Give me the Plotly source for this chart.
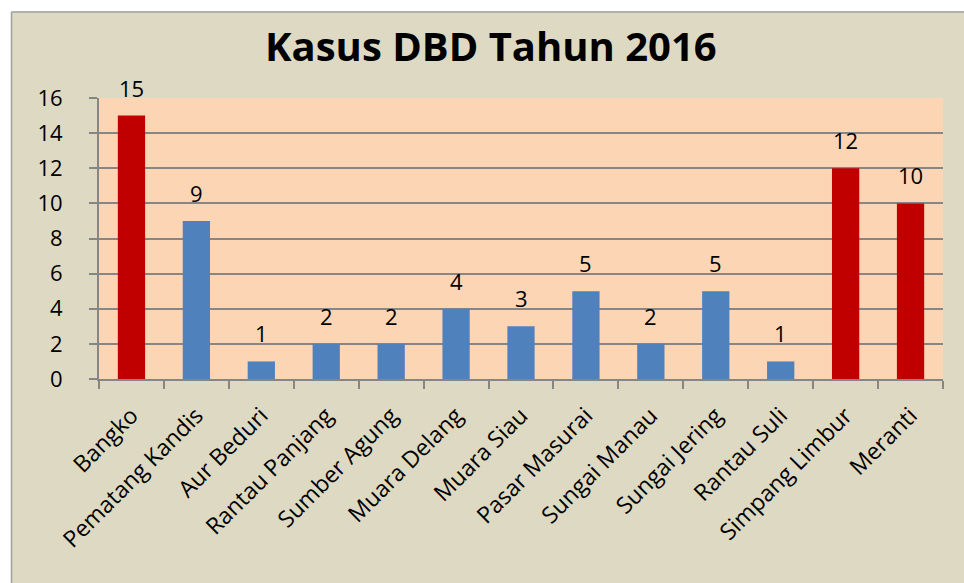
import plotly.graph_objects as go

categories = ["Bangko", "Pematang Kandis", "Aur Beduri", "Rantau Panjang", "Sumber Agung",
              "Muara Delang", "Muara Siau", "Pasar Masurai", "Sungai Manau", "Sungai Jering",
              "Rantau Suli", "Simpang Limbur", "Meranti"]
cases = [15, 9, 1, 2, 2, 4, 3, 5, 2, 5, 1, 12, 10]
y_ticks = [0, 2, 4, 6, 8, 10, 12, 14, 16]

RED = "#C00000"
BLUE = "#4F81BD"
colors = [RED if v >= 10 else BLUE for v in cases]

FONT = "Open Sans"
W, H = 964, 583
L, R, T, B = 99, 964 - 943, 98, 583 - 379
pw, ph = W - L - R, H - T - B

def px2x(px):
    return (px - L) / pw

def py2y(py):
    return (H - B - py) / ph

fig = go.Figure()
fig.add_trace(go.Bar(
    x=categories, y=cases, marker=dict(color=colors, line=dict(width=0)),
    width=0.42, hoverinfo="x+y",
))

annotations = []
for c, v in zip(categories, cases):
    annotations.append(dict(x=c, y=v, text=str(v), showarrow=False, xref="x", yref="y",
                            yanchor="bottom", yshift=11,
                            font=dict(family=FONT, size=22, color="black")))

annotations.append(dict(x=px2x(491), y=py2y(46), xref="paper", yref="paper", text="<b>Kasus DBD Tahun 2016</b>",
                        showarrow=False, xanchor="center", yanchor="middle",
                        font=dict(family=FONT, size=40, color="black")))

shapes = [
    dict(type="rect", xref="paper", yref="paper", x0=px2x(-5), x1=px2x(975), y0=py2y(11.5), y1=py2y(-5),
         fillcolor="white", line=dict(width=0), layer="above"),
    dict(type="rect", xref="paper", yref="paper", x0=px2x(-5), x1=px2x(11), y0=py2y(600), y1=py2y(-5),
         fillcolor="white", line=dict(width=0), layer="above"),
    dict(type="line", xref="paper", yref="paper", x0=px2x(11.5), x1=px2x(975), y0=py2y(12), y1=py2y(12),
         line=dict(color="#A0A0A0", width=1.5), layer="above"),
    dict(type="line", xref="paper", yref="paper", x0=px2x(11.5), x1=px2x(11.5), y0=py2y(12), y1=py2y(600),
         line=dict(color="#A0A0A0", width=1.5), layer="above"),
]

fig.update_layout(
    width=W, height=H,
    margin=dict(l=L, r=R, t=T, b=B, pad=0),
    paper_bgcolor="#DDD9C3",
    plot_bgcolor="#FCD5B5",
    showlegend=False,
    annotations=annotations,
    shapes=shapes,
    font=dict(family=FONT, size=23, color="black"),
)
fig.update_xaxes(
    type="category", tickangle=-45, ticks="outside", tickson="boundaries", ticklen=8,
    tickcolor="#868686", tickwidth=2, showline=True, linecolor="#868686", linewidth=2,
    showgrid=False, tickfont=dict(family=FONT, size=23, color="black"),
    range=[-0.5, 12.5], ticklabelstandoff=12, automargin=False,
)
fig.update_yaxes(
    range=[0, 16], tickvals=y_ticks, ticks="outside", ticklen=8, tickcolor="#868686", tickwidth=2,
    showline=True, linecolor="#868686", linewidth=2, showgrid=True, gridcolor="#868686", gridwidth=1.5,
    zeroline=False, ticklabelstandoff=22, tickfont=dict(family=FONT, size=22, color="black"),
    automargin=False,
)

fig.write_html(
    "out.html",
    config={"displayModeBar": False},
    post_script="document.body.style.margin='0';document.body.style.overflow='hidden';",
)
